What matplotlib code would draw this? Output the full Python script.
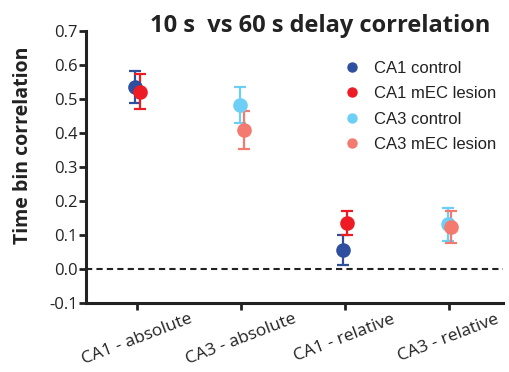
import matplotlib
matplotlib.use('Agg')
import matplotlib.pyplot as plt
from matplotlib.lines import Line2D
from matplotlib.transforms import ScaledTranslation

categories = ['CA1 - absolute', 'CA3 - absolute', 'CA1 - relative', 'CA3 - relative']

# mean +/- sem per group, positions index into categories
ca1_pos = [0, 2]
ca3_pos = [1, 3]
ca1_control = [0.536, 0.056]
ca1_control_err = [0.047, 0.043]
ca1_lesion = [0.521, 0.136]
ca1_lesion_err = [0.052, 0.035]
ca3_control = [0.482, 0.131]
ca3_control_err = [0.054, 0.048]
ca3_lesion = [0.409, 0.124]
ca3_lesion_err = [0.055, 0.047]

yticks = [-0.1, 0.0, 0.1, 0.2, 0.3, 0.4, 0.5, 0.6, 0.7]

ink = '#222222'

fig = plt.figure(figsize=(5.09, 3.72), dpi=100)
ax = fig.add_axes([0.169, 0.1855, 0.819, 0.7315])

groups = [
    ('CA1 control', ca1_pos, ca1_control, ca1_control_err, '#2E4FA0', -0.02),
    ('CA1 mEC lesion', ca1_pos, ca1_lesion, ca1_lesion_err, '#ED1C24', 0.025),
    ('CA3 control', ca3_pos, ca3_control, ca3_control_err, '#6DCFF6', -0.01),
    ('CA3 mEC lesion', ca3_pos, ca3_lesion, ca3_lesion_err, '#F4796F', 0.025),
]
handles = []
for label, pos, vals, errs, color, dx in groups:
    ax.errorbar([p + dx for p in pos], vals, yerr=errs, fmt='o', color=color,
                markersize=9.5, elinewidth=1.6, capsize=4, capthick=1.6)
    handles.append(Line2D([], [], ls='none', marker='o', color=color,
                          markersize=6.5, label=label))

ax.axhline(0, color=ink, lw=1.5, ls=(0, (3, 2)), zorder=0)

ax.set_xlim(-0.49, 3.52)
ax.set_ylim(-0.1, 0.7)
ax.set_yticks(yticks)
ax.set_yticklabels(['%.1f' % t for t in yticks], family='Open Sans', fontsize=12)
ax.set_xticks(range(len(categories)))
ax.set_xticklabels(categories, rotation=21, ha='center', family='Open Sans',
                   fontsize=12.5)
shift = ScaledTranslation(-6 / 100, 0, fig.dpi_scale_trans)
for lbl in ax.get_xticklabels():
    lbl.set_transform(lbl.get_transform() + shift)

for side in ['top', 'right']:
    ax.spines[side].set_visible(False)
for side in ['left', 'bottom']:
    ax.spines[side].set_linewidth(2.2)
    ax.spines[side].set_color(ink)
ax.tick_params(width=2, length=5, color=ink, labelcolor=ink)
ax.tick_params(axis='y', pad=1)
ax.tick_params(axis='x', pad=1)

ax.set_ylabel('Time bin correlation', family='Open Sans', fontweight='bold',
              fontsize=14, color=ink)
ax.yaxis.set_label_coords(-0.127, 0.58)

fig.text(0.629, 0.915, '10 s  vs 60 s delay correlation', ha='center',
         va='baseline', family='Open Sans', fontweight='bold', fontsize=17,
         color=ink)

leg = ax.legend(handles=handles, loc='upper left',
                bbox_to_anchor=(0.583, 0.945), frameon=False,
                prop={'family': 'Liberation Sans', 'size': 12},
                handletextpad=0.8, labelspacing=0.62, handlelength=1.0)
for t in leg.get_texts():
    t.set_color(ink)

fig.savefig('out.png', dpi=100)
